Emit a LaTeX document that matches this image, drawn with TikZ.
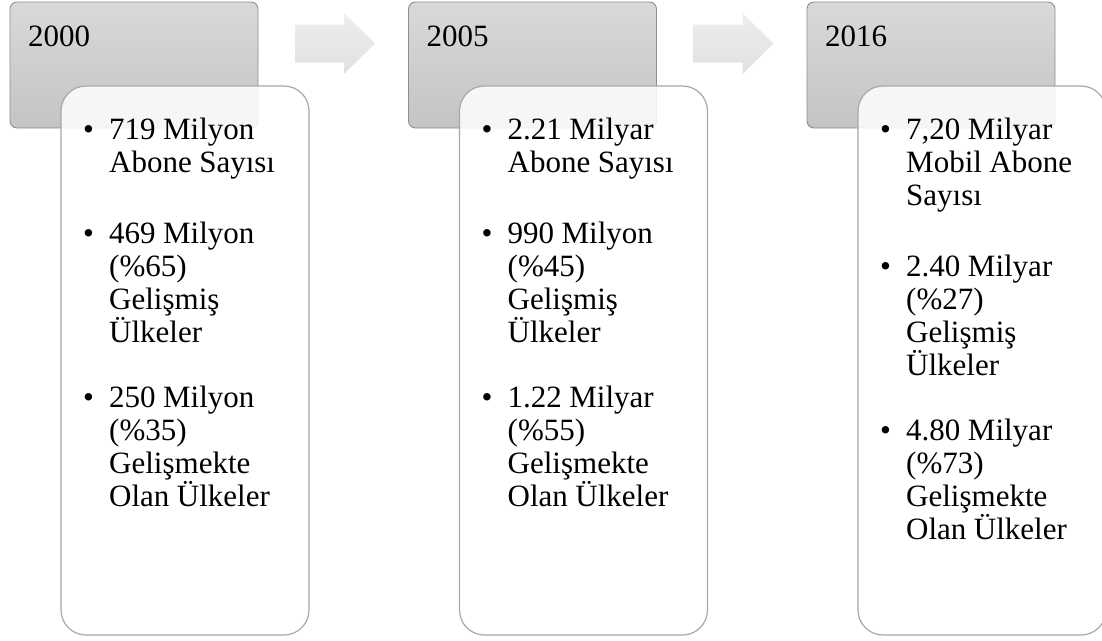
\documentclass[tikz,border=0pt]{standalone}
\usepackage{fontspec}
\setmainfont{Liberation Serif}
\usetikzlibrary{positioning,calc}
\definecolor{headtop}{HTML}{D9D9D9}
\definecolor{headbot}{HTML}{C4C4C4}
\definecolor{headline}{HTML}{8E8E8E}
\definecolor{cardline}{HTML}{A8A8A8}
\definecolor{arrtop}{HTML}{EEEEEE}
\definecolor{arrbot}{HTML}{E0E0E0}

% one bullet, lines given with \\
\newcommand{\fact}[1]{\noindent\makebox[26pt][l]{\textbullet}\parbox[t]{190pt}{\raggedright\spaceskip=7.5pt #1}\par}

\begin{document}
\begin{tikzpicture}[x=1pt, y=-1pt,
  head/.style={draw=headline, line width=0.9pt, rounded corners=7pt, top color=headtop, bottom color=headbot, minimum width=248pt, minimum height=126pt, inner sep=0pt, outer sep=0pt},
  card/.style={draw=cardline, line width=1.2pt, rounded corners=25pt, fill=white, fill opacity=0.85, minimum width=248pt, minimum height=549pt, inner sep=0pt, outer sep=0pt, anchor=north west},
  year/.style={font=\fontsize{31}{33}\selectfont, anchor=base west, inner sep=0pt},
  facts/.style={font=\fontsize{31}{33}\selectfont, text width=220pt, anchor=north west, inner sep=0pt},
  blockarr/.style={top color=arrtop, bottom color=arrbot, draw=none}
]
  \clip (0,0) rectangle (1102,640);

  % year headers
  \node[head, anchor=north west] (h1) at (10,2) {};
  \node[head, right=150.5pt of h1] (h2) {};
  \node[head, right=150.5pt of h2] (h3) {};

  \node[year] (y1) at ($(h1.north west)+(18,44)$) {2000};
  \node[year] (y2) at ($(h2.north west)+(18,44)$) {2005};
  \node[year] (y3) at ($(h3.north west)+(18,44)$) {2016};

  % block arrows between headers
  \coordinate (a1) at ($(h1.north east)+(37,41.5)$);
  \coordinate (a2) at ($(h2.north east)+(37,41.5)$);
  \foreach \a in {a1,a2}
    \path[blockarr] (\a) ++(0,-19) -- ++(49,0) -- ++(0,-11.5) -- ++(31,30.5) -- ++(-31,30.5) -- ++(0,-11.5) -- ++(-49,0) -- cycle;

  % white cards
  \node[card] (c1) at ($(h1.north west)+(51,84)$) {};
  \node[card] (c2) at ($(h2.north west)+(51,84)$) {};
  \node[card] (c3) at ($(h3.north west)+(51,84)$) {};

  \node[facts] (f1) at ($(c1.north west)+(22,32)$) {%
    \fact{719 Milyon\\ Abone Sayısı}\vspace{42pt}
    \fact{469 Milyon\\ (\%65)\\ Gelişmiş\\ Ülkeler}\vspace{42pt}
    \fact{250 Milyon\\ (\%35)\\ Gelişmekte\\ Olan Ülkeler}};
  \node[facts] (f2) at ($(c2.north west)+(22,32)$) {%
    \fact{2.21 Milyar\\ Abone Sayısı}\vspace{42pt}
    \fact{990 Milyon\\ (\%45)\\ Gelişmiş\\ Ülkeler}\vspace{42pt}
    \fact{1.22 Milyar\\ (\%55)\\ Gelişmekte\\ Olan Ülkeler}};
  \node[facts] (f3) at ($(c3.north west)+(22,32)$) {%
    \fact{7,20 Milyar\\ Mobil Abone\\ Sayısı}\vspace{42pt}
    \fact{2.40 Milyar\\ (\%27)\\ Gelişmiş\\ Ülkeler}\vspace{42pt}
    \fact{4.80 Milyar\\ (\%73)\\ Gelişmekte\\ Olan Ülkeler}};
\end{tikzpicture}
\end{document}
